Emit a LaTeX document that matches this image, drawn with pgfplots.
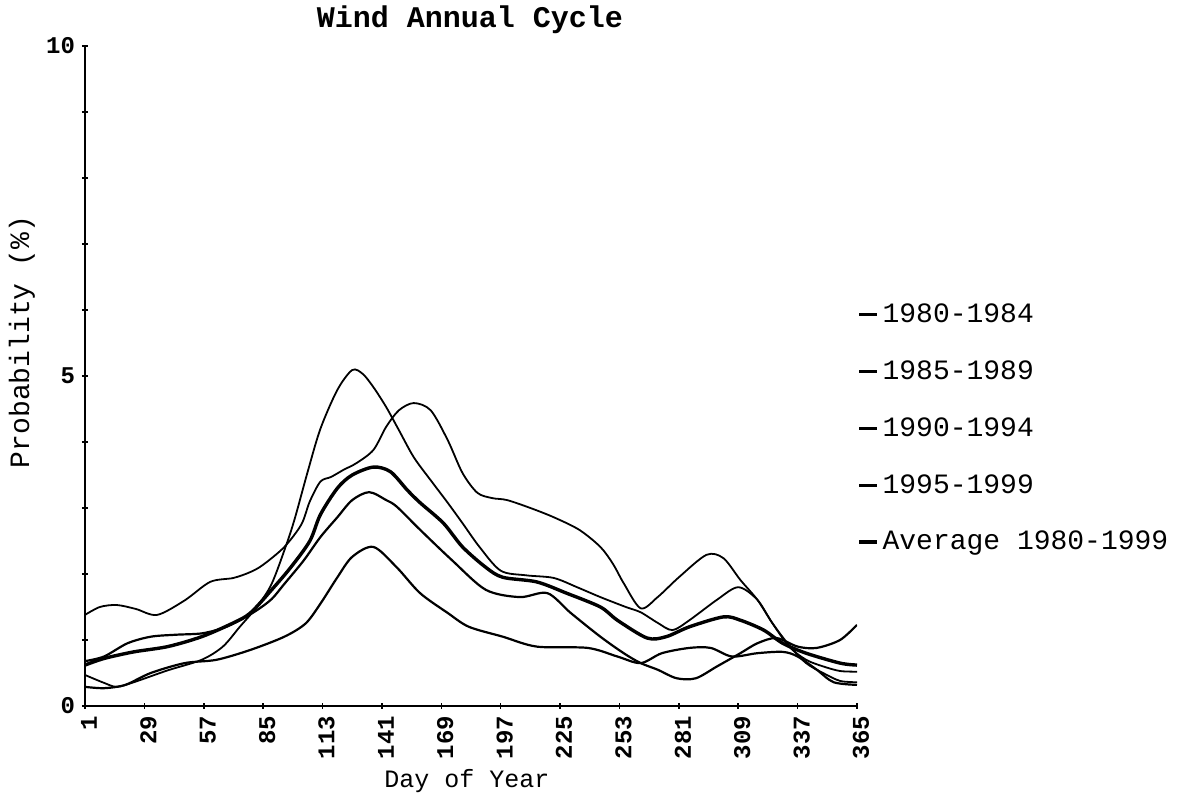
\documentclass[border=0pt]{standalone}
\usepackage{fontspec}
\setmainfont{Liberation Mono}
\usepackage{pgfplots}
\pgfplotsset{compat=1.18}
\begin{document}
\begin{tikzpicture}
\path[use as bounding box] (-42.5pt,-45pt) rectangle (546pt,353pt);
\begin{axis}[
  at={(0,0)}, anchor=south west,
  scale only axis, width=386pt, height=330pt,
  xmin=1, xmax=365, ymin=0, ymax=10,
  axis lines=left, axis line style={-, line width=1pt},
  xtick={1,29,...,365},
  ytick={0,...,10}, yticklabels={0,,,,,5,,,,,10},
  tick style={black, line width=0.8pt},
  major tick length=3pt,
  /pgf/number format/assume math mode=true,
  xticklabel style={rotate=90, anchor=east, yshift=-2pt, font=\fontsize{12}{14}\selectfont\bfseries},
  yticklabel style={font=\fontsize{12}{14}\selectfont\bfseries},
  legend style={draw=none, fill=none, at={(1,0.6165)}, anchor=north west,
    font=\fontsize{14}{17}\selectfont, row sep=13.6pt, inner sep=0pt},
  legend cell align=left,
  legend image code/.code={\draw[#1, line width=1.6pt] (0pt,0pt) -- (9pt,0pt);},
  every axis plot/.append style={black, smooth, tension=0.5},
]
% 1980-1984
\addplot[line width=1.1pt] coordinates {(1,0.29) (10,0.27) (20,0.32) (32,0.5) (48,0.65) (63,0.7) (79,0.85) (95,1.05) (105,1.25) (112,1.55) (120,1.95) (127,2.26) (137,2.41) (148,2.1) (159,1.71) (172,1.41) (182,1.2) (198,1.05) (214,0.9) (238,0.88) (252,0.75) (263,0.65) (273,0.8) (286,0.88) (296,0.88) (306,0.75) (318,0.8) (330,0.82) (337,0.75) (346,0.55) (354,0.36) (365,0.32)};
\addlegendentry{1980-1984}
% 1985-1989
\addplot[line width=1.1pt] coordinates {(1,0.68) (10,0.75) (21,0.95) (32,1.05) (44,1.08) (56,1.1) (66,1.18) (74,1.3) (82,1.45) (89,1.62) (95,1.85) (104,2.2) (112,2.56) (120,2.86) (127,3.12) (135,3.24) (143,3.12) (148,3.02) (159,2.67) (174,2.21) (190,1.76) (206,1.65) (219,1.71) (230,1.41) (244,1.05) (255,0.8) (263,0.65) (271,0.55) (280,0.42) (289,0.42) (299,0.6) (310,0.8) (318,0.95) (327,1.03) (337,0.9) (346,0.88) (357,1.0) (365,1.23)};
\addlegendentry{1985-1989}
% 1990-1994
\addplot[line width=0.9pt] coordinates {(1,0.47) (10,0.35) (16,0.29) (24,0.36) (40,0.54) (56,0.7) (66,0.9) (74,1.2) (82,1.5) (89,1.85) (96,2.45) (100,2.85) (106,3.55) (112,4.2) (120,4.79) (127,5.09) (132,5.03) (137,4.83) (143,4.53) (149,4.18) (156,3.77) (164,3.42) (172,3.08) (179,2.77) (187,2.41) (197,2.05) (209,1.98) (222,1.94) (233,1.8) (244,1.65) (256,1.5) (263,1.42) (271,1.26) (278,1.15) (286,1.3) (299,1.61) (309,1.8) (318,1.61) (325,1.26) (333,0.92) (341,0.65) (349,0.5) (357,0.38) (365,0.36)};
\addlegendentry{1990-1994}
% 1995-1999
\addplot[line width=0.9pt] coordinates {(1,1.38) (8,1.5) (16,1.53) (25,1.47) (35,1.38) (48,1.6) (60,1.88) (71,1.94) (79,2.03) (85,2.14) (95,2.41) (103,2.75) (107,3.1) (112,3.4) (117,3.47) (123,3.58) (129,3.68) (137,3.88) (143,4.23) (149,4.48) (156,4.59) (164,4.48) (172,4.03) (179,3.53) (186,3.23) (193,3.15) (200,3.12) (211,3.0) (222,2.86) (234,2.67) (244,2.41) (250,2.15) (255,1.86) (263,1.48) (271,1.65) (281,1.95) (294,2.29) (302,2.24) (310,1.91) (318,1.61) (325,1.26) (333,0.9) (341,0.7) (349,0.6) (357,0.53) (365,0.52)};
\addlegendentry{1995-1999}
% Average
\addplot[line width=1.7pt] coordinates {(1,0.62) (10,0.72) (24,0.82) (40,0.9) (56,1.05) (71,1.26) (79,1.41) (89,1.76) (98,2.1) (107,2.5) (112,2.9) (120,3.3) (127,3.5) (137,3.62) (145,3.55) (153,3.27) (159,3.08) (170,2.77) (179,2.41) (190,2.1) (198,1.95) (214,1.88) (228,1.71) (244,1.5) (252,1.3) (266,1.03) (275,1.05) (286,1.2) (302,1.35) (310,1.3) (321,1.15) (330,0.95) (341,0.8) (357,0.65) (365,0.62)};
\addlegendentry{Average 1980-1999}
\end{axis}
\node[font=\fontsize{15}{18}\selectfont\bfseries] at (192.5pt,343pt) {Wind Annual Cycle};
\node[font=\fontsize{12.5}{15}\selectfont] at (191pt,-37.5pt) {Day of Year};
\node[rotate=90, font=\fontsize{14}{16}\selectfont] at (-31.5pt,182pt) {Probability (\%)};
\end{tikzpicture}
\end{document}
